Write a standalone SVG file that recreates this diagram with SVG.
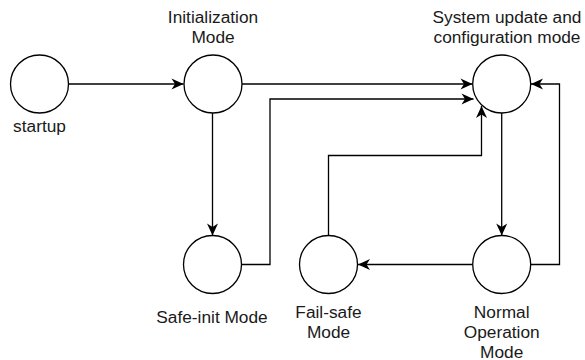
<svg xmlns="http://www.w3.org/2000/svg" width="585" height="360" viewBox="0 0 585 360">
  <style>
    .state { fill: #ffffff; stroke: #000000; stroke-width: 1.3; }
    .edge { fill: none; stroke: #000000; stroke-width: 1.3; marker-end: url(#arrow); }
    .label { font-family: "Liberation Sans", Arial, sans-serif; font-size: 17.3px; fill: #1a1a1a; text-anchor: middle; }
  </style>
  <defs>
    <marker id="arrow" markerUnits="userSpaceOnUse" markerWidth="14" markerHeight="12" viewBox="-13 -6 14 12" refX="0" refY="0" orient="auto">
      <path d="M0,0 L-12,-5.5 L-8.5,0 L-12,5.5 Z" fill="#000000" stroke="none"/>
    </marker>
  </defs>

  <rect x="0" y="0" width="585" height="360" fill="#ffffff"/>

  <!-- transitions -->
  <g id="connectors">
    <path class="edge" d="M68.5,84 L183.5,84"/>
    <path class="edge" d="M242,84 L472.5,84"/>
    <path class="edge" d="M212.5,113 L212.5,235.5"/>
    <path class="edge" d="M241.5,264.5 L270,264.5 L270,99 L473.5,99"/>
    <path class="edge" d="M328.5,235.5 L328.5,155.5 L481.5,155.5 L481.5,106"/>
    <path class="edge" d="M501.7,113 L501.7,235.5"/>
    <path class="edge" d="M530.5,264.5 L559.5,264.5 L559.5,84 L531,84"/>
    <path class="edge" d="M472.5,264.5 L358,264.5"/>
  </g>

  <g id="startup">
    <circle class="state" cx="39.5" cy="84" r="29"/>
    <text class="label" x="39.5" y="132">startup</text>
  </g>

  <g id="initialization-mode">
    <circle class="state" cx="213" cy="84" r="29"/>
    <text class="label" x="213" y="23">Initialization</text>
    <text class="label" x="213" y="43">Mode</text>
  </g>

  <g id="system-update-mode">
    <circle class="state" cx="501.7" cy="84" r="29"/>
    <text class="label" x="507" y="23">System update and</text>
    <text class="label" x="507" y="43">configuration mode</text>
  </g>

  <g id="safe-init-mode">
    <circle class="state" cx="212.5" cy="264.5" r="29"/>
    <text class="label" x="212" y="322.5">Safe-init Mode</text>
  </g>

  <g id="fail-safe-mode">
    <circle class="state" cx="328.5" cy="264.5" r="29"/>
    <text class="label" x="328.5" y="318">Fail-safe</text>
    <text class="label" x="328.5" y="337.5">Mode</text>
  </g>

  <g id="normal-operation-mode">
    <circle class="state" cx="501.7" cy="264.5" r="29"/>
    <text class="label" x="501.7" y="318">Normal</text>
    <text class="label" x="501.7" y="338">Operation</text>
    <text class="label" x="501.7" y="357.5">Mode</text>
  </g>
</svg>
